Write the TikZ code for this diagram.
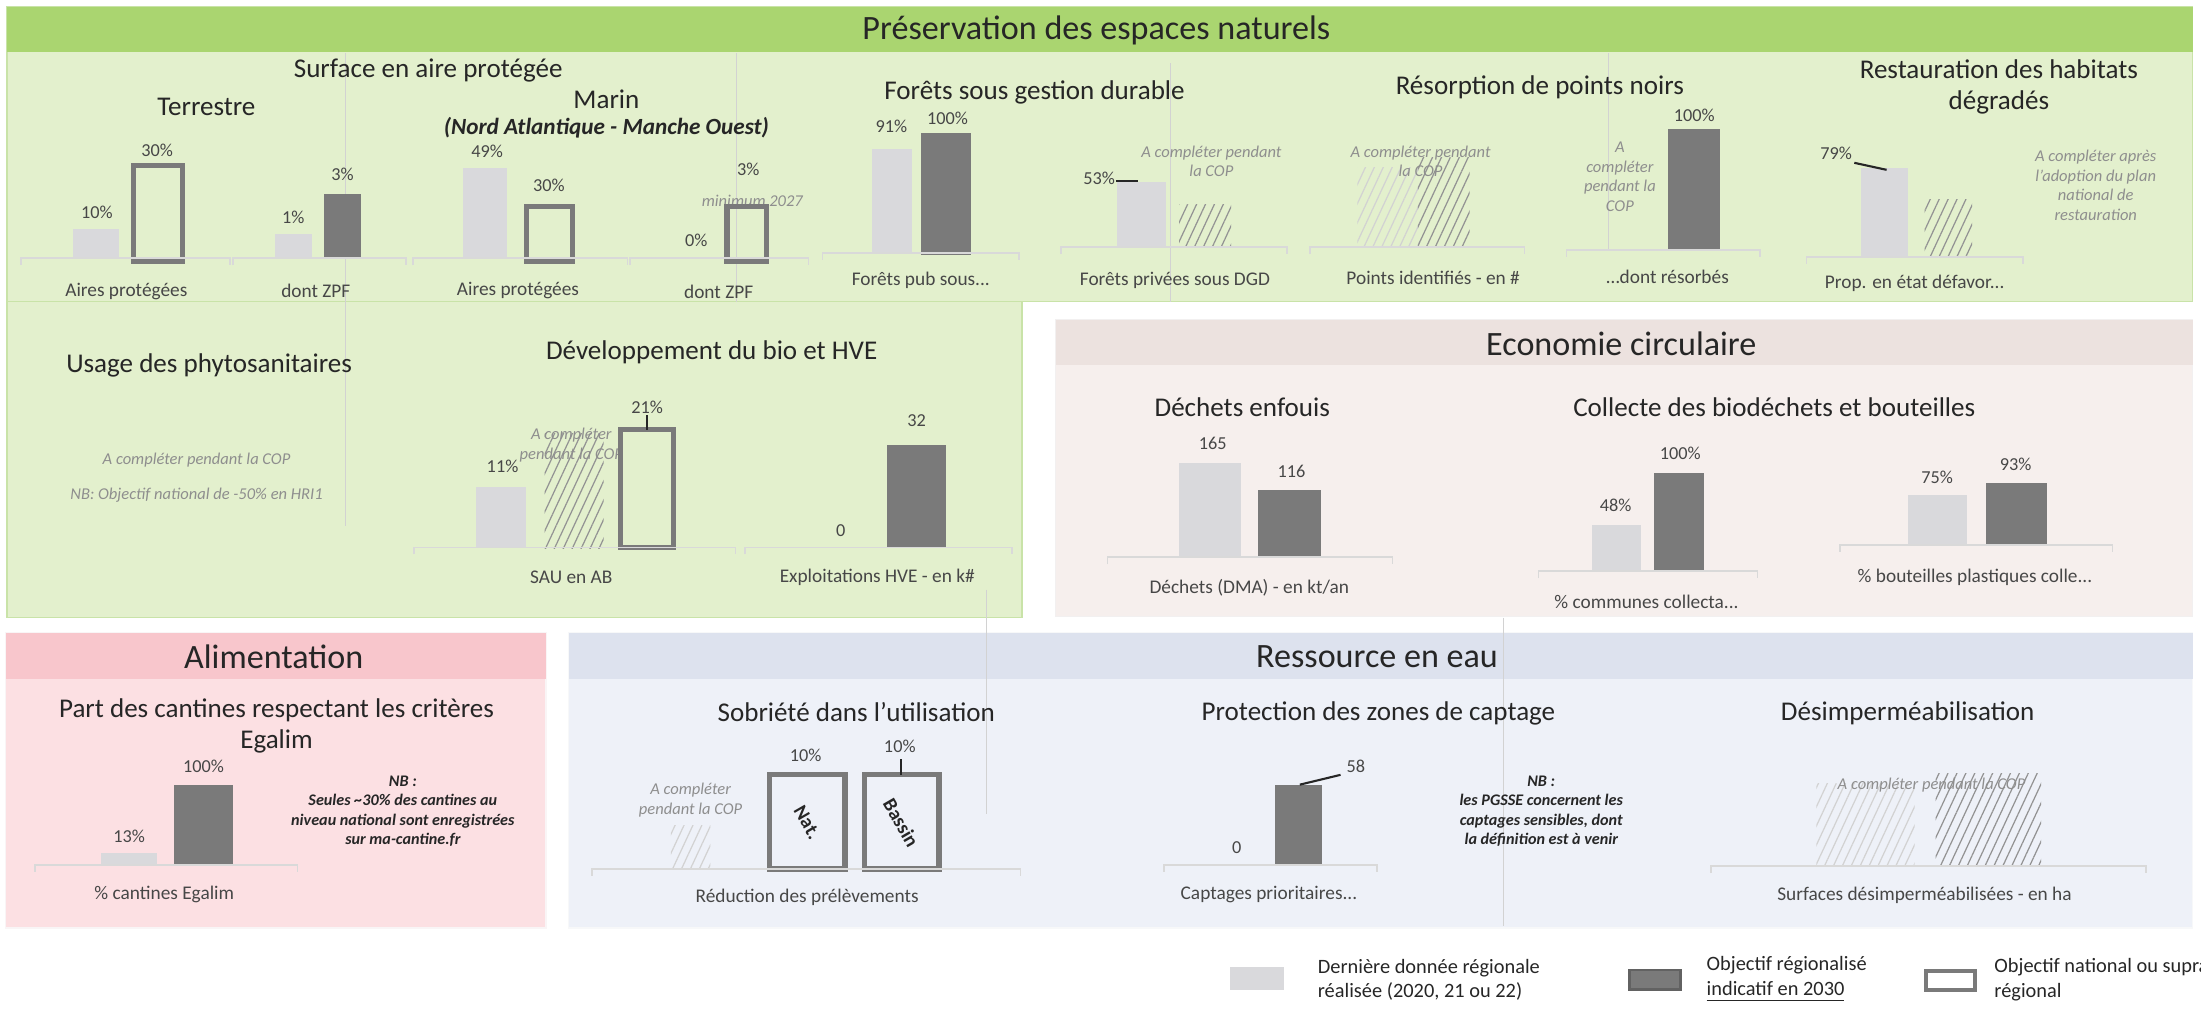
\documentclass[tikz,border=0pt]{standalone}
\usepackage{fontspec}
\setmainfont{Carlito}
\usetikzlibrary{patterns.meta}

\definecolor{greenhead}{HTML}{AAD570}
\definecolor{greenbody}{HTML}{E3F0CD}
\definecolor{greenline}{HTML}{C9E3A8}
\definecolor{ecohead}{HTML}{ECE2DF}
\definecolor{ecobody}{HTML}{F6EFED}
\definecolor{alimhead}{HTML}{F8C6CC}
\definecolor{alimbody}{HTML}{FCE0E3}
\definecolor{eauhead}{HTML}{DDE2EE}
\definecolor{eaubody}{HTML}{EEF1F8}
\definecolor{lastval}{HTML}{D9D9DC}
\definecolor{goalval}{HTML}{7A7A7A}
\definecolor{notegrey}{HTML}{8E8E8E}
\definecolor{ink}{HTML}{262626}

\tikzset{
  headtitle/.style={font=\fontsize{9.7}{10.5}\selectfont, text=ink},
  charttitle/.style={font=\fontsize{7.7}{8.8}\selectfont, text=ink, align=center},
  catlabel/.style={font=\fontsize{5.5}{6.5}\selectfont, text=ink!85},
  vallabel/.style={font=\fontsize{5.2}{6}\selectfont, text=ink!85},
  notetext/.style={font=\fontsize{4.7}{5.6}\selectfont\itshape, text=notegrey, align=center},
  nbtext/.style={font=\fontsize{4.6}{5.5}\selectfont\bfseries\itshape, text=ink, align=center},
  legtext/.style={font=\fontsize{5.8}{7}\selectfont, text=ink, align=left, anchor=west},
  barword/.style={font=\fontsize{5.6}{6.5}\selectfont\bfseries, text=ink, rotate=-60, inner sep=0pt},
  lastbar/.style={fill=lastval},
  goalbar/.style={fill=goalval},
  natbar/.style={draw=goalval, line width=1.5pt},
  hatchbar/.style={pattern={Lines[angle=65,distance=2.3pt,line width=0.35pt]}, pattern color=gray!85},
  hatchfaint/.style={pattern={Lines[angle=65,distance=2.3pt,line width=0.35pt]}, pattern color=gray!35},
  axisline/.style={draw=gray!30, line width=0.5pt},
  gridline/.style={draw=gray!35, line width=0.3pt}
}

% axis of a small chart: from x1 to x2 at height y
\newcommand{\chartbase}[3]{\draw[axisline] (#1,#3+5) -- (#1,#3) -- (#2,#3) -- (#2,#3+5);}

\begin{document}
\begin{tikzpicture}[x=0.014037cm, y=-0.014037cm]
\useasboundingbox (0,0) rectangle (1568,720);

% panels
\draw[greenline, fill=greenbody] (5,5) rectangle (1562,215);
\fill[greenhead] (5,5) rectangle (1562,37);
\draw[greenline, fill=greenbody] (5,215) rectangle (728,440);
\draw[ecohead!80!black!20!white, fill=ecobody] (752,228) rectangle (1562,439);
\fill[ecohead] (752,228) rectangle (1562,260);
\draw[alimhead!80!black!10!white, fill=alimbody] (4,451) rectangle (389,661);
\fill[alimhead] (4,451) rectangle (389,484);
\draw[eauhead!80!black!10!white, fill=eaubody] (405,451) rectangle (1562,661);
\fill[eauhead] (405,451) rectangle (1562,484);

% faint guide lines
\draw[gridline] (246,38) -- (246,375);
\draw[gridline] (525,38) -- (525,215);
\draw[gridline] (834,45) -- (834,215);
\draw[gridline] (1146,38) -- (1146,178);
\draw[gridline] (703,420) -- (703,580);
\draw[gridline] (1071,440) -- (1071,660);

% headers
\node[headtitle] (t_pres) at (781,22) {Préservation des espaces naturels};
\node[headtitle] (t_eco) at (1155,245) {Economie circulaire};
\node[headtitle] (t_alim) at (195,468) {Alimentation};
\node[headtitle] (t_eau) at (981,468) {Ressource en eau};

% surface en aire protegee
\node[charttitle] (s_aire) at (305,50) {Surface en aire protégée};
\node[charttitle] (s_terre) at (147,76) {Terrestre};
\node[charttitle] (s_marin) at (432,71) {Marin};
\node[font=\fontsize{6.6}{8}\selectfont\bfseries\itshape, text=ink] (s_zone) at (432,91) {(Nord Atlantique - Manche Ouest)};

\fill[lastbar] (52,163) rectangle (85,184);
\node[vallabel] (v_t1) at (69,151) {10\%};
\draw[natbar] (95,118) rectangle (130,186);
\node[vallabel] (v_t2) at (112,107) {30\%};
\chartbase{15}{164}{184}
\node[catlabel] (c_t1) at (90,208) {Aires protégées};

\fill[lastbar] (196,167) rectangle (222,184);
\node[vallabel] (v_t3) at (209,155) {1\%};
\fill[goalbar] (231,138) rectangle (257,184);
\node[vallabel] (v_t4) at (244,124) {3\%};
\chartbase{166}{289}{184}
\node[catlabel] (c_t2) at (225,207) {dont ZPF};

\fill[lastbar] (330,120) rectangle (361,184);
\node[vallabel] (v_m1) at (347,108) {49\%};
\draw[natbar] (375,147) rectangle (408,186);
\node[vallabel] (v_m2) at (391,132) {30\%};
\chartbase{294}{447}{184}
\node[catlabel] (c_m1) at (369,207) {Aires protégées};

\node[vallabel] (v_m3) at (496,171) {0\%};
\node[notetext] (n_min) at (536,143) {minimum 2027};
\draw[natbar] (518,147) rectangle (546,186);
\node[vallabel] (v_m4) at (533,121) {3\%};
\chartbase{449}{576}{184}
\node[catlabel] (c_m2) at (512,208) {dont ZPF};

% forets
\node[charttitle] (s_foret) at (737,66) {Forêts sous gestion durable};
\fill[lastbar] (621,106) rectangle (650,180);
\node[vallabel] (v_f1) at (635,90) {91\%};
\fill[goalbar] (656,95) rectangle (692,182);
\node[vallabel] (v_f2) at (675,84) {100\%};
\chartbase{586}{726}{180}
\node[catlabel] (c_f1) at (656,200) {Forêts pub sous...};

\fill[lastbar] (796,130) rectangle (831,176);
\node[vallabel] (v_f3) at (783,127) {53\%};
\draw[ink, line width=0.6pt] (795,129) -- (811,129);
\fill[hatchbar] (840,146) rectangle (877,176);
\node[notetext] (n_f) at (863,115) {A compléter pendant\\la COP};
\chartbase{756}{917}{176}
\node[catlabel] (c_f2) at (837,200) {Forêts privées sous DGD};

% points noirs
\node[charttitle] (s_noirs) at (1097,62) {Résorption de points noirs};
\fill[hatchfaint] (967,119) rectangle (1012,176);
\fill[hatchbar] (1010,112) rectangle (1047,176);
\node[notetext] (n_p) at (1012,115) {A compléter pendant\\la COP};
\chartbase{933}{1086}{176}
\node[catlabel] (c_p1) at (1021,198) {Points identifiés - en \#};

\node[notetext] (n_r) at (1154,126) {A\\compléter\\pendant la\\COP};
\fill[goalbar] (1188,92) rectangle (1225,179);
\node[vallabel] (v_p2) at (1207,82) {100\%};
\chartbase{1116}{1254}{178}
\node[catlabel] (c_p2) at (1188,197) {…dont résorbés};

% restauration
\node[charttitle] (s_resto) at (1424,62) {Restauration des habitats\\dégradés};
\fill[lastbar] (1326,120) rectangle (1359,183);
\node[vallabel] (v_r1) at (1308,109) {79\%};
\draw[ink, line width=0.6pt] (1321,116) -- (1344,121);
\fill[hatchbar] (1371,142) rectangle (1405,183);
\chartbase{1287}{1441}{183}
\node[catlabel] (c_r1) at (1364,202) {Prop. en état défavor...};
\node[notetext] (n_resto) at (1493,132) {A compléter après\\l’adoption du plan\\national de\\restauration};

% phytosanitaires
\node[charttitle] (s_phyto) at (149,260) {Usage des phytosanitaires};
\node[notetext] (n_phyto1) at (140,328) {A compléter pendant la COP};
\node[notetext] (n_phyto2) at (140,353) {NB: Objectif national de -50\% en HRI1};

% bio et HVE
\node[charttitle] (s_bio) at (507,251) {Développement du bio et HVE};
\fill[lastbar] (339,347) rectangle (375,390);
\node[vallabel] (v_b1) at (358,332) {11\%};
\fill[hatchbar] (388,309) rectangle (430,391);
\node[notetext] (n_bio) at (407,317) {A compléter\\pendant la COP};
\draw[natbar] (442,306) rectangle (480,390);
\node[vallabel] (v_b2) at (461,290) {21\%};
\draw[ink, line width=0.6pt] (461,296) -- (461,306);
\chartbase{295}{524}{390}
\node[catlabel] (c_b1) at (407,411) {SAU en AB};

\node[vallabel] (v_b3) at (599,378) {0};
\fill[goalbar] (632,317) rectangle (674,390);
\node[vallabel] (v_b4) at (653,300) {32};
\chartbase{531}{721}{390}
\node[catlabel] (c_b2) at (625,411) {Exploitations HVE - en k\#};

% dechets
\node[charttitle] (s_dech) at (885,290) {Déchets enfouis};
\fill[lastbar] (840,330) rectangle (884,397);
\node[vallabel] (v_d1) at (864,316) {165};
\fill[goalbar] (896,349) rectangle (941,397);
\node[vallabel] (v_d2) at (920,336) {116};
\chartbase{789}{992}{397}
\node[catlabel] (c_d1) at (890,419) {Déchets (DMA) - en kt/an};

\node[charttitle] (s_coll) at (1264,290) {Collecte des biodéchets et bouteilles};
\fill[lastbar] (1134,374) rectangle (1169,407);
\node[vallabel] (v_c1) at (1151,360) {48\%};
\fill[goalbar] (1178,337) rectangle (1214,407);
\node[vallabel] (v_c2) at (1197,323) {100\%};
\chartbase{1096}{1252}{407}
\node[catlabel] (c_c1) at (1173,429) {\% communes collecta...};

\fill[lastbar] (1359,353) rectangle (1401,388);
\node[vallabel] (v_c3) at (1380,340) {75\%};
\fill[goalbar] (1415,344) rectangle (1458,388);
\node[vallabel] (v_c4) at (1436,331) {93\%};
\chartbase{1311}{1505}{388}
\node[catlabel] (c_c2) at (1407,411) {\% bouteilles plastiques colle...};

% cantines
\node[charttitle] (s_cant) at (197,517) {Part des cantines respectant les critères\\Egalim};
\fill[lastbar] (72,608) rectangle (112,616);
\node[vallabel] (v_a1) at (92,596) {13\%};
\fill[goalbar] (124,559) rectangle (166,616);
\node[vallabel] (v_a2) at (145,546) {100\%};
\chartbase{25}{212}{616}
\node[catlabel] (c_a1) at (117,637) {\% cantines Egalim};
\node[nbtext] (nb_cant) at (287,578) {NB :\\Seules \textasciitilde30\% des cantines au\\niveau national sont enregistrées\\sur ma-cantine.fr};

% sobriete
\node[charttitle] (s_sobr) at (610,507) {Sobriété dans l’utilisation};
\fill[hatchfaint] (478,588) rectangle (506,619);
\node[notetext] (n_sobr) at (492,570) {A compléter\\pendant la COP};
\draw[natbar] (548,552) rectangle (602,619);
\node[vallabel] (v_s1) at (574,538) {10\%};
\node[barword] (l_nat) at (575,586) {Nat.};
\draw[natbar] (616,552) rectangle (669,619);
\node[vallabel] (v_s2) at (641,532) {10\%};
\draw[ink, line width=0.6pt] (642,541) -- (642,552);
\node[barword] (l_bassin) at (642,586) {Bassin};
\chartbase{422}{727}{619}
\node[catlabel] (c_s1) at (575,639) {Réduction des prélèvements};

% captage
\node[charttitle] (s_capt) at (982,508) {Protection des zones de captage};
\node[vallabel] (v_k1) at (881,604) {0};
\fill[goalbar] (908,559) rectangle (942,616);
\node[vallabel] (v_k2) at (966,546) {58};
\draw[ink, line width=0.6pt] (926,559) .. controls (940,555) .. (955,552);
\chartbase{829}{981}{616}
\node[catlabel] (c_k1) at (904,637) {Captages prioritaires...};
\node[nbtext] (nb_capt) at (1098,578) {NB :\\les PGSSE concernent les\\captages sensibles, dont\\la définition est à venir};

% desimpermeabilisation
\node[charttitle] (s_desimp) at (1359,508) {Désimperméabilisation};
\fill[hatchfaint] (1294,558) rectangle (1364,616);
\fill[hatchbar] (1379,551) rectangle (1454,616);
\node[notetext] (n_desimp) at (1376,559) {A compléter pendant la COP};
\chartbase{1219}{1529}{617}
\node[catlabel] (c_de1) at (1371,638) {Surfaces désimperméabilisées - en ha};

% legend
\fill[lastbar] (876,689) rectangle (915,705);
\node[legtext] (leg_last) at (930,698) {Dernière donnée régionale\\réalisée (2020, 21 ou 22)};
\draw[goalval!80!black, fill=goalval, line width=0.8pt] (1161,691) rectangle (1197,705);
\node[legtext] (leg_goal) at (1207,698) {Objectif régionalisé\\\underline{indicatif en 2030}};
\draw[natbar, line width=1.2pt] (1372,692) rectangle (1407,705);
\node[legtext] (leg_nat) at (1412,698) {Objectif national ou supra-\\régional};
\end{tikzpicture}
\end{document}
